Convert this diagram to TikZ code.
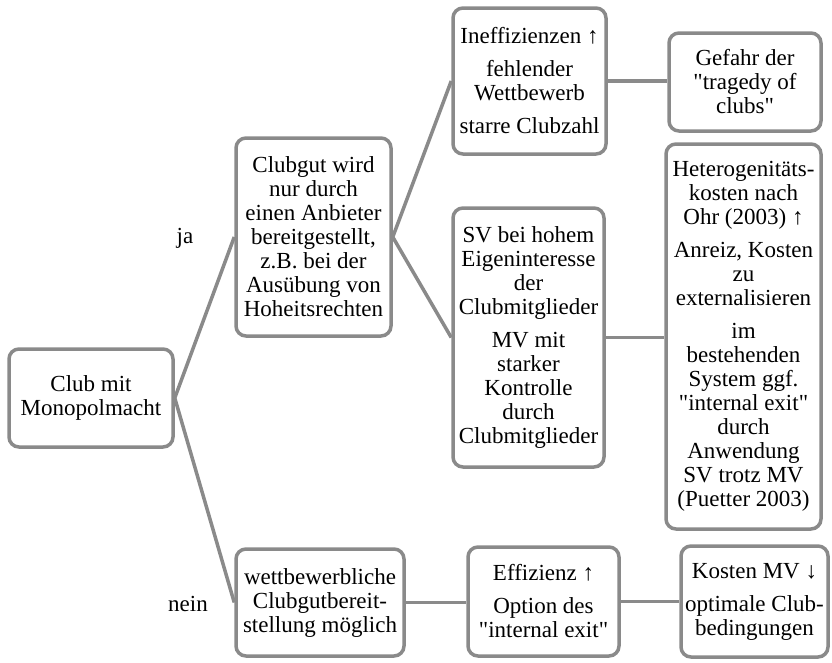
\documentclass[tikz,border=0pt]{standalone}
\usepackage{fontspec}
\setmainfont{Liberation Serif}[Ligatures=TeXOff]
\definecolor{bgray}{RGB}{138,138,138}
\begin{document}
\begin{tikzpicture}[x=1pt,y=-1pt,
  box/.style={draw=bgray, line width=3.5pt, rounded corners=10pt, fill=white,
    align=center, inner sep=0pt, font=\fontsize{23}{24}\selectfont},
  conn/.style={draw=bgray, line width=3.5pt},
  lbl/.style={anchor=base, inner sep=0pt, font=\fontsize{23}{24}\selectfont}]
\useasboundingbox (0,0) rectangle (832,662);

\node[box, minimum width=164pt, minimum height=98pt] (club) at (91,398)
  {Club mit\\Monopolmacht};
\node[box, minimum width=155pt, minimum height=198pt] (clubgut) at (313.5,237)
  {Clubgut wird\\nur durch\\einen Anbieter\\bereitgestellt,\\z.B. bei der\\Ausübung von\\Hoheitsrechten};
\node[box, minimum width=153pt, minimum height=146pt] (ineff) at (529.5,81)
  {Ineffizienzen ↑\\[9pt]fehlender\\Wettbewerb\\[9pt]starre Clubzahl};
\node[box, minimum width=152pt, minimum height=98pt] (gefahr) at (745,82)
  {Gefahr der\\"tragedy of\\clubs"};
\node[box, minimum width=151pt, minimum height=259pt] (sv) at (528.5,337.5)
  {SV bei hohem\\Eigeninteresse\\der\\Clubmitglieder\\[9pt]MV mit\\starker\\Kontrolle\\durch\\Clubmitglieder};
\node[box, minimum width=155pt, minimum height=385pt] (hetero) at (743.5,336.5)
  {Heterogenitäts-\\kosten nach\\Ohr (2003) ↑\\[9pt]Anreiz, Kosten\\zu\\externalisieren\\[9pt]im\\bestehenden\\System ggf.\\"internal exit"\\durch\\Anwendung\\SV trotz MV\\(Puetter 2003)};
\node[box, minimum width=168pt, minimum height=107pt] (wett) at (320,602.5)
  {wettbewerbliche\\Clubgutbereit-\\stellung möglich};
\node[box, minimum width=151pt, minimum height=109pt] (effiz) at (543.5,601.5)
  {Effizienz ↑\\[9pt]Option des\\"internal exit"};
\node[box, minimum width=147pt, minimum height=111pt] (kosten) at (754.5,601.5)
  {Kosten MV ↓\\[9pt]optimale Club-\\bedingungen};

\node[lbl] (ja) at (185,243) {ja};
\node[lbl] (nein) at (188,611) {nein};

\draw[conn] (club.east) -- (clubgut.west);
\draw[conn] (club.east) -- (wett.west);
\draw[conn] (clubgut.east) -- (ineff.west);
\draw[conn] (clubgut.east) -- (sv.west);
\draw[conn] (ineff.east) -- (ineff.east -| gefahr.west);
\draw[conn] (sv.east) -- (sv.east -| hetero.west);
\draw[conn] (wett.east) -- (wett.east -| effiz.west);
\draw[conn] (effiz.east) -- (effiz.east -| kosten.west);
\end{tikzpicture}
\end{document}
